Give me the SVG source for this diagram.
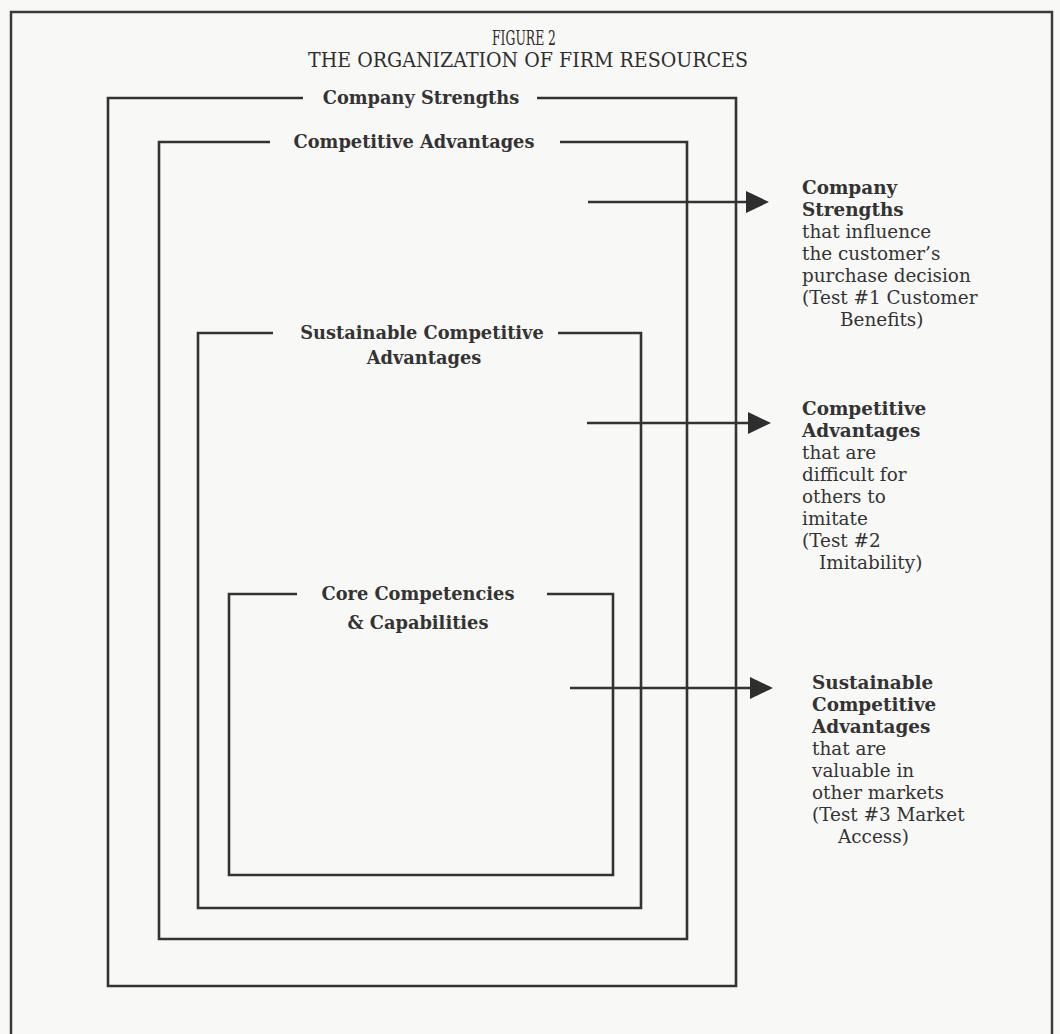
<svg xmlns="http://www.w3.org/2000/svg" width="1060" height="1034" viewBox="0 0 1060 1034">
  <defs>
    <style>
      .bg { fill: #f8f8f6; }
      .frame { fill: none; stroke: #3a3a3a; stroke-width: 2.5; }
      .box { fill: none; stroke: #333; stroke-width: 2.6; }
      .conn { fill: none; stroke: #333; stroke-width: 2.6; }
      .title { font-family: "DejaVu Serif", "Liberation Serif", serif; font-size: 20px; fill: #2e2e2e; text-anchor: middle; }
      .label { font-family: "DejaVu Serif", "Liberation Serif", serif; font-size: 17.8px; font-weight: bold; fill: #333; text-anchor: middle; }
      .rb { font-family: "DejaVu Serif", "Liberation Serif", serif; font-size: 18.4px; font-weight: bold; fill: #333; }
      .rt { font-family: "DejaVu Serif", "Liberation Serif", serif; font-size: 18.4px; fill: #333; }
    </style>
    <marker id="ah" viewBox="0 0 24 24" markerUnits="userSpaceOnUse" markerWidth="24" markerHeight="24" refX="4" refY="12" orient="auto">
      <path d="M0,1 L23,12 L0,23 z" fill="#2e2e2e"/>
    </marker>
  </defs>

  <rect class="bg" x="0" y="0" width="1060" height="1034"/>
  <path class="frame" d="M11,1034 V12 H1052 V1034"/>

  <g id="title">
    <text class="title" x="524" y="45" textLength="64" lengthAdjust="spacingAndGlyphs">FIGURE 2</text>
    <text class="title" x="528" y="67" textLength="440" lengthAdjust="spacingAndGlyphs">THE ORGANIZATION OF FIRM RESOURCES</text>
  </g>

  <g id="company-strengths">
    <path class="box" d="M303,98 H108 V986 H736 V98 H537"/>
    <text class="label" x="421" y="104">Company Strengths</text>
  </g>

  <g id="competitive-advantages">
    <path class="box" d="M270,142 H159 V939 H687 V142 H560"/>
    <text class="label" x="414" y="148">Competitive Advantages</text>
  </g>

  <g id="sustainable-competitive-advantages">
    <path class="box" d="M273,333 H198 V908 H641 V333 H558"/>
    <text class="label" x="422" y="339">Sustainable Competitive</text>
    <text class="label" x="424" y="364">Advantages</text>
  </g>

  <g id="core-competencies">
    <path class="box" d="M297,594 H229 V875 H613 V594 H547"/>
    <text class="label" x="418" y="600">Core Competencies</text>
    <text class="label" x="418" y="629">&amp; Capabilities</text>
  </g>

  <g id="connectors">
    <line class="conn" x1="588" y1="202" x2="750" y2="202" marker-end="url(#ah)"/>
    <line class="conn" x1="587" y1="423" x2="752" y2="423" marker-end="url(#ah)"/>
    <line class="conn" x1="570" y1="688" x2="754" y2="688" marker-end="url(#ah)"/>
  </g>

  <g id="note-1">
    <text class="rb" x="802" y="194">Company</text>
    <text class="rb" x="802" y="216">Strengths</text>
    <text class="rt" x="802" y="238">that influence</text>
    <text class="rt" x="802" y="260">the customer’s</text>
    <text class="rt" x="802" y="282">purchase decision</text>
    <text class="rt" x="802" y="304">(Test #1 Customer</text>
    <text class="rt" x="840" y="326">Benefits)</text>
  </g>

  <g id="note-2">
    <text class="rb" x="802" y="415">Competitive</text>
    <text class="rb" x="802" y="437">Advantages</text>
    <text class="rt" x="802" y="459">that are</text>
    <text class="rt" x="802" y="481">difficult for</text>
    <text class="rt" x="802" y="503">others to</text>
    <text class="rt" x="802" y="525">imitate</text>
    <text class="rt" x="802" y="547">(Test #2</text>
    <text class="rt" x="819" y="569">Imitability)</text>
  </g>

  <g id="note-3">
    <text class="rb" x="812" y="689">Sustainable</text>
    <text class="rb" x="812" y="711">Competitive</text>
    <text class="rb" x="812" y="733">Advantages</text>
    <text class="rt" x="812" y="755">that are</text>
    <text class="rt" x="812" y="777">valuable in</text>
    <text class="rt" x="812" y="799">other markets</text>
    <text class="rt" x="812" y="821">(Test #3 Market</text>
    <text class="rt" x="838" y="843">Access)</text>
  </g>
</svg>
